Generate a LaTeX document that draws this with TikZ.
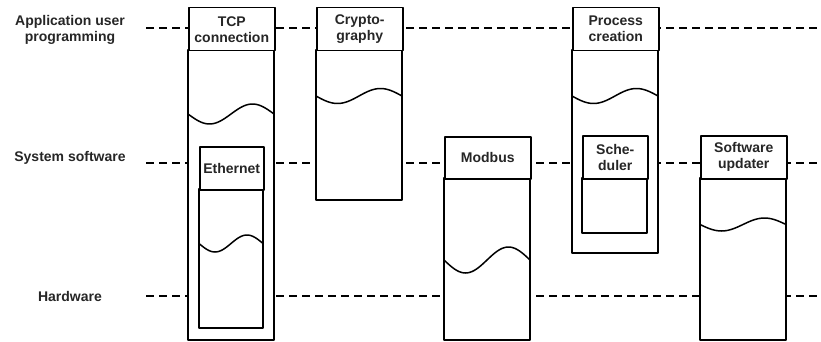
\documentclass[tikz,border=0pt]{standalone}
\usepackage{fontspec}
\setmainfont{Liberation Sans}
\newcommand\boxwave[4]{\draw[wave] plot[domain=0:1, samples=41, smooth] ({#1+\x*(#2-#1)}, {#3+#4*sin(360*\x)});}
\begin{document}
\begin{tikzpicture}[x=1pt, y=-1pt, line join=round, font=\fontsize{14}{16}\selectfont\bfseries]
	\tikzset{
		lvl/.style={align=center, text=black!85},
		levelline/.style={line width=1.5pt, dash pattern=on 8pt off 5pt},
		head/.style={draw, line width=1.5pt, fill=white, align=center, anchor=north west, inner sep=0pt, text=black!85},
		body/.style={draw, line width=1.5pt, fill=white},
		wave/.style={line width=1.5pt, line cap=round}
	}
	\useasboundingbox (0,0) rectangle (821,342);
	% levels
	\node[lvl] (app) at (70,30) {Application user\\programming};
	\node[lvl] (sys) at (70,158) {System software};
	\node[lvl] (hw) at (70,296) {Hardware};
	\coordinate (appS) at (146,28); \coordinate (appE) at (821,28);
	\coordinate (sysS) at (146,163); \coordinate (sysE) at (821,163);
	\coordinate (hwS) at (146,296); \coordinate (hwE) at (821,296);
	\draw[levelline] (appS)--(appE);
	\draw[levelline] (sysS)--(sysE);
	\draw[levelline] (hwS)--(hwE);
	% outer boxes
	\foreach \nm/\xa/\xb/\ya/\yb/\yc/\txt in {tcp/188/274/7/50/340/{TCP\\connection}, crypto/316/402/7/50/200/{Crypto-\\graphy}, modbus/444/530/136/178/340/{Modbus}, proc/572/658/7/50/253/{Process\\creation}, upd/700/786/135/178/340/{Software\\updater}}
	{
		\pgfmathsetmacro\w{\xb-\xa}\pgfmathsetmacro\h{\yb-\ya}
		\draw[body] (\xa,\yb) rectangle (\xb,\yc);
		\node[head, minimum width=\w pt, minimum height=\h pt] (\nm) at (\xa,\ya) {\txt};
	}
	% inner boxes
	\foreach \nm/\xa/\xb/\ya/\yb/\yc/\txt in {eth/199/263/146/189/328/{Ethernet}, sched/582/647/135/178/233/{Sche-\\duler}}
	{
		\pgfmathsetmacro\w{\xb-\xa}\pgfmathsetmacro\h{\yb-\ya}
		\draw[body] (\xa,\yb) rectangle (\xb,\yc);
		\node[head, minimum width=\w pt, minimum height=\h pt] (\nm) at (\xa,\ya) {\txt};
	}
	% waves
	\boxwave{188}{274}{114}{10}
	\boxwave{316}{402}{96}{7.5}
	\boxwave{444}{530}{260}{13}
	\boxwave{572}{658}{96}{7.5}
	\boxwave{700}{786}{224.5}{6.5}
	\boxwave{199}{263}{243.5}{8.5}
\end{tikzpicture}
\end{document}
